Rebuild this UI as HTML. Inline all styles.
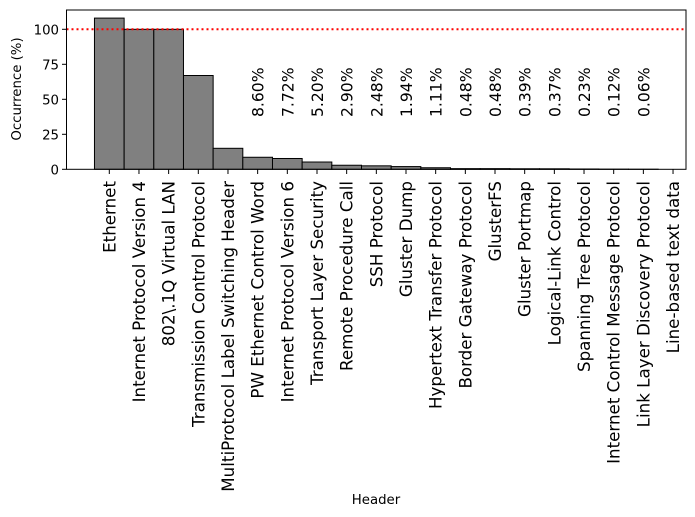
<!DOCTYPE html><html><head><style>body{margin:0;background:#fff}svg{display:block}text{font-family:"DejaVu Sans","Liberation Sans",sans-serif;fill:#000}</style></head><body>
<svg width="695" height="517" xmlns="http://www.w3.org/2000/svg">
<g id="bars" fill="#808080" stroke="#000" stroke-width="1"></g>
<line x1="66.5" y1="29.3" x2="686" y2="29.3" stroke="#ff0000" stroke-width="2" stroke-dasharray="2,3"/>
<rect x="66.5" y="10" width="619.5" height="159.3" fill="none" stroke="#000" stroke-width="1"/>
<g id="yt" font-size="13.3"></g>
<g id="xt"></g>
<text x="21" y="89" font-size="13.3" text-anchor="middle" transform="rotate(-90 21 89)">Occurrence (%)</text>
<text x="376" y="504" font-size="13.3" text-anchor="middle">Header</text>
</svg>
<script>
const names=["Ethernet","Internet Protocol Version 4","802\\.1Q Virtual LAN","Transmission Control Protocol","MultiProtocol Label Switching Header","PW Ethernet Control Word","Internet Protocol Version 6","Transport Layer Security","Remote Procedure Call","SSH Protocol","Gluster Dump","Hypertext Transfer Protocol","Border Gateway Protocol","GlusterFS","Gluster Portmap","Logical-Link Control","Spanning Tree Protocol","Internet Control Message Protocol","Link Layer Discovery Protocol","Line-based text data"];
const v=[108,100,100,67,15,8.6,7.72,5.2,2.9,2.48,1.94,1.11,0.48,0.48,0.39,0.37,0.23,0.12,0.06,0];
const ns="http://www.w3.org/2000/svg",b=document.getElementById('bars'),xt=document.getElementById('xt'),yt=document.getElementById('yt');
const y0=169.3,s=1.4,st=29.67,x0=109.3;
function el(t,a,p,txt){const e=document.createElementNS(ns,t);for(const k in a)e.setAttribute(k,a[k]);if(txt!==undefined)e.textContent=txt;p.appendChild(e);return e;}
v.forEach((d,i)=>{const cx=x0+i*st;
if(d>0)el('rect',{x:cx-st/2,y:y0-d*s,width:st,height:d*s},b);
el('line',{x1:cx,y1:169.3,x2:cx,y2:174,stroke:'#000'},xt);
el('text',{x:cx+6,y:181,'font-size':16.7,'text-anchor':'end',transform:`rotate(-90 ${cx+6} 181)`},xt,names[i]);
if(i>=5&&i<=18)el('text',{x:cx+6,y:117,'font-size':15.6,'text-anchor':'start',transform:`rotate(-90 ${cx+6} 117)`},xt,d.toFixed(2)+'%');
});
[0,25,50,75,100].forEach(t=>{const y=y0-t*s;el('line',{x1:62,y1:y,x2:66.5,y2:y,stroke:'#000'},yt);el('text',{x:59,y:y+5,'text-anchor':'end'},yt,t);});
</script>
</body></html>
